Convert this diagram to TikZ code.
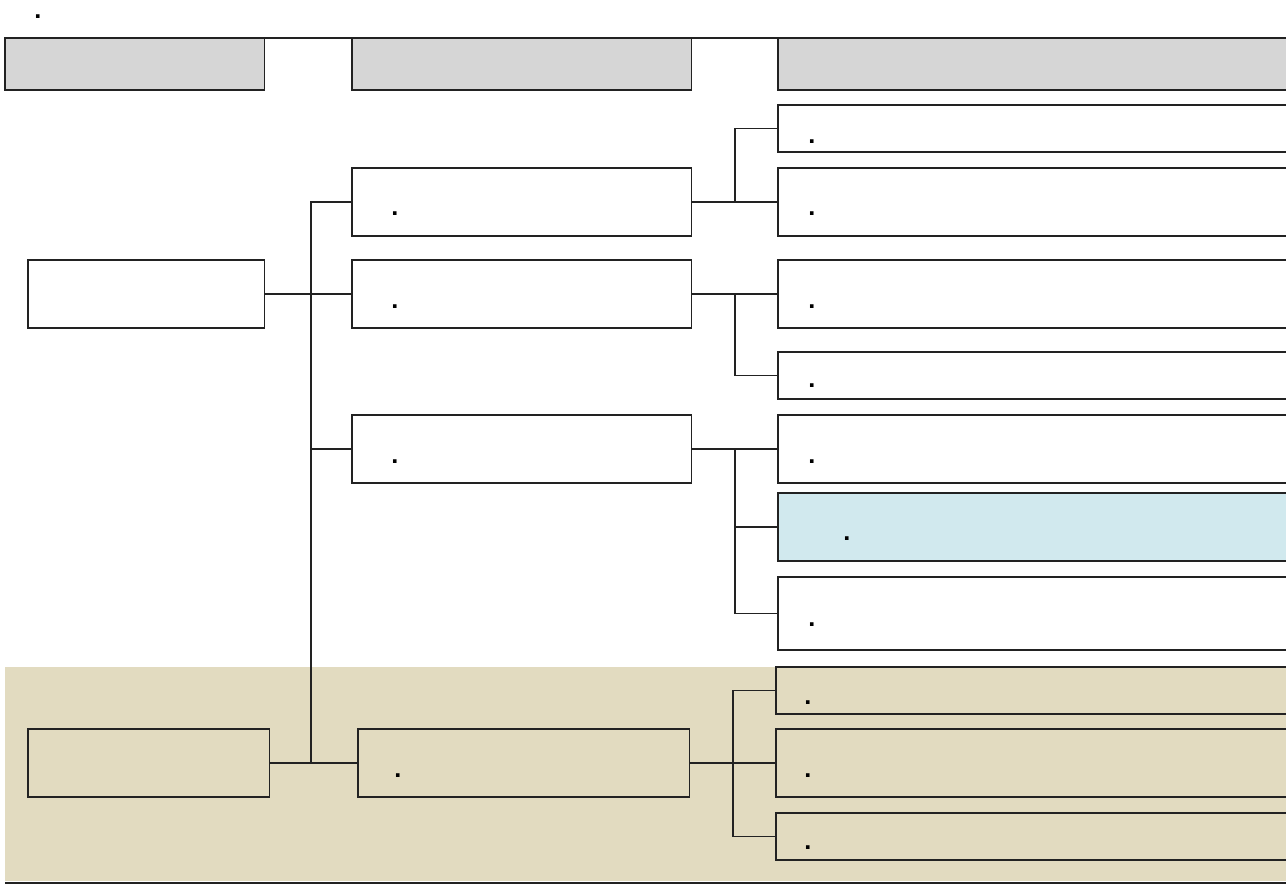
\documentclass[tikz,border=0pt]{standalone}
\usepackage{fontspec}
\setmainfont{Liberation Sans}
\definecolor{hdgray}{HTML}{D6D6D6}
\definecolor{bgbeige}{HTML}{E2DBC0}
\definecolor{hlblue}{HTML}{D1E9EE}
\definecolor{lnblack}{HTML}{222222}
\tikzset{
  box/.style={draw=lnblack, fill=white, anchor=north west, inner sep=0pt, outer sep=0pt, minimum height=1.36cm},
  hdbox/.style={box, fill=hdgray, minimum height=1.04cm},
  slim/.style={minimum height=0.94cm},
  dotlbl/.style={inner sep=0pt, font=\bfseries\Large}
}
\begin{document}
\begin{tikzpicture}[x=0.02cm, y=-0.02cm, line width=0.6pt]
  \useasboundingbox (0,0) rectangle (1286,887);
  \clip (0,0) rectangle (1286,887);
  % shaded band at the bottom
  \fill[bgbeige] (5,667) rectangle (1296,881);
  \draw[lnblack] (5,883) -- (1296,883);
  % column headers
  \node[hdbox, minimum width=5.2cm] (hd1) at (5,38) {};
  \node[hdbox, minimum width=6.8cm] (hd2) at (352,38) {};
  \node[hdbox, minimum width=10.36cm] (hd3) at (778,38) {};
  \draw[lnblack] (hd1.north west) -- (hd3.north east);
  % left column
  \node[box, minimum width=4.74cm] (la) at (28,260) {};
  \node[box, minimum width=4.84cm, fill=bgbeige] (lb) at (28,729) {};
  % middle column
  \node[box, minimum width=6.8cm] (m1) at (352,168) {};
  \node[box, minimum width=6.8cm] (m2) at (352,260) {};
  \node[box, minimum width=6.8cm] (m3) at (352,415) {};
  \node[box, minimum width=6.64cm, fill=bgbeige] (m4) at (358,729) {};
  % right column
  \node[box, slim, minimum width=10.36cm] (r1) at (778,105) {};
  \node[box, minimum width=10.36cm] (r2) at (778,168) {};
  \node[box, minimum width=10.36cm] (r3) at (778,260) {};
  \node[box, slim, minimum width=10.36cm] (r4) at (778,352) {};
  \node[box, minimum width=10.36cm] (r5) at (778,415) {};
  \node[box, minimum width=10.36cm, fill=hlblue] (r6) at (778,493) {};
  \node[box, minimum width=10.36cm, minimum height=1.46cm] (r7) at (778,577) {};
  \node[box, slim, minimum width=10.4cm, fill=bgbeige] (r8) at (776,667) {};
  \node[box, minimum width=10.4cm, fill=bgbeige] (r9) at (776,729) {};
  \node[box, slim, minimum width=10.4cm, fill=bgbeige] (r10) at (776,813) {};
  % left trunk
  \draw[lnblack] (la.east) -- (m2.west);
  \draw[lnblack] (lb.east) -- (m4.west);
  \draw[lnblack] (m1.west) -- ++(-41,0) |- (m4.west);
  \draw[lnblack] (m3.west) -- ++(-41,0);
  % fan-outs to the right column
  \draw[lnblack] (m1.east) -- (r2.west);
  \draw[lnblack] (r1.west) -- ++(-43,0) |- (r2.west);
  \draw[lnblack] (m2.east) -- (r3.west);
  \draw[lnblack] (r4.west) -- ++(-43,0) |- (r3.west);
  \draw[lnblack] (m3.east) -- (r5.west);
  \draw[lnblack] (r7.west) -- ++(-43,0) |- (r5.west);
  \draw[lnblack] (r6.west) -- ++(-43,0);
  \draw[lnblack] (m4.east) -- (r9.west);
  \draw[lnblack] (r8.west) -- ++(-43,0) |- (r10.west);
  % labels
  \foreach \n/\x/\y in {t0/38/17, tm1/395/214, tm2/395/307, tm3/395/462, tm4/398/776,
      tr1/812/142, tr2/812/214, tr3/812/307, tr4/812/386, tr5/812/462,
      tr6/847/539, tr7/812/625, tr8/808/703, tr9/808/776, tr10/808/848}{
    \node[dotlbl] (\n) at (\x,\y) {.};
  }
\end{tikzpicture}
\end{document}
